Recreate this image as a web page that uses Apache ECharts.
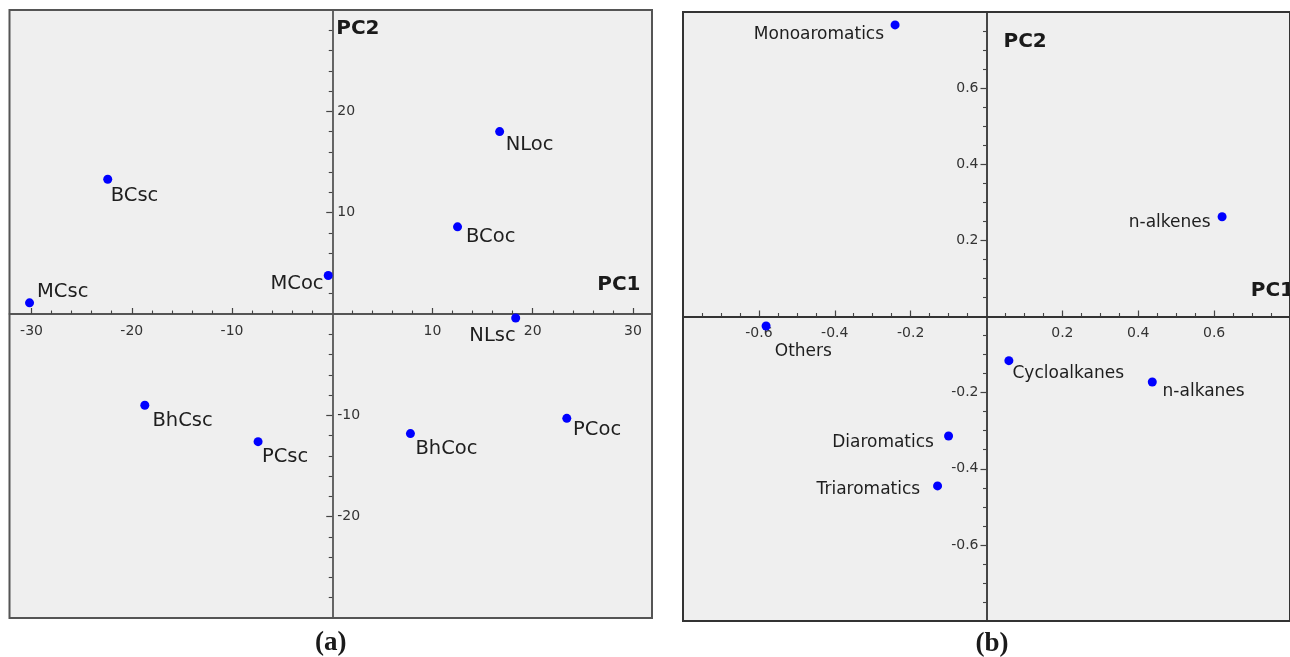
<!DOCTYPE html>
<html><head><meta charset="utf-8">
<script src="https://cdn.jsdelivr.net/npm/echarts@6/dist/echarts.min.js"></script>
<style>html,body{margin:0;padding:0;background:#fff}#c{width:1290px;height:657px}</style>
</head><body><div id="c"></div>
<script>
// ---------- data (panel a: samples) ----------
const namesA = ['MCsc','BCsc','MCoc','NLoc','BCoc','NLsc','BhCsc','PCsc','BhCoc','PCoc'];
const pc1A   = [-30.2, -22.4, -0.4, 16.7, 12.5, 18.3, -18.7, -7.4, 7.8, 23.4];
const pc2A   = [1.1, 13.3, 3.8, 18.0, 8.6, -0.4, -9.0, -12.6, -11.8, -10.3];
// ---------- data (panel b: loadings) ----------
const namesB = ['Monoaromatics','n-alkenes','Others','Cycloalkanes','n-alkanes','Diaromatics','Triaromatics'];
const pc1B   = [-0.241, 0.621, -0.581, 0.059, 0.437, -0.100, -0.129];
const pc2B   = [0.766, 0.262, -0.025, -0.116, -0.172, -0.314, -0.445];
// ---------- tick labels ----------
const xTicksA = [-30, -20, -10, 10, 20, 30];
const yTicksA = [-20, -10, 10, 20];
const xMinorA = [-28,-26,-24,-22,-18,-16,-14,-12,-8,-6,-4,-2,2,4,6,8,12,14,16,18,22,24,26,28];
const yMinorA = [-28,-26,-24,-22,-18,-16,-14,-12,-8,-6,-4,-2,2,4,6,8,12,14,16,18,22,24,26,28];
const xTicksB = [-0.6, -0.4, -0.2, 0.2, 0.4, 0.6];
const yTicksB = [-0.6, -0.4, -0.2, 0.2, 0.4, 0.6];
const xMinorB = [-0.75,-0.7,-0.65,-0.55,-0.5,-0.45,-0.35,-0.3,-0.25,-0.15,-0.1,-0.05,0.05,0.1,0.15,0.25,0.3,0.35,0.45,0.5,0.55,0.65,0.7,0.75];
const yMinorB = [-0.75,-0.7,-0.65,-0.55,-0.5,-0.45,-0.35,-0.3,-0.25,-0.15,-0.1,-0.05,0.05,0.1,0.15,0.25,0.3,0.35,0.45,0.5,0.55,0.65,0.7,0.75];
const captions = ['(a)', '(b)'];

// ---------- layout / style (kept apart from data) ----------
const gridA = {left: 9.5, top: 10, width: 642.5, height: 608};
const gridB = {left: 683, top: 12, width: 618, height: 609};
const rangeA = {xmin: -32.2, xmax: 31.9, ymin: -30, ymax: 30};
const rangeB = {xmin: -0.8, xmax: 0.8, ymin: -0.8, ymax: 0.8};
// [align, dx, dy] for each label
const labelLayoutA = [['left',7.5,-10.7],['left',3,16.7],['right',-4.7,8.3],['left',6,13],['left',8.5,10],
                      ['right',0,18],['left',7.6,15.7],['left',3.8,15],['left',5,15.3],['left',6.3,11.7]];
const labelLayoutB = [['right',-11,9.3],['right',-11.5,6],['left',8.7,25.6],['left',3.6,12.7],['left',10.3,9.7],
                      ['right',-14.6,7],['right',-17.4,3.7]];
const FONT = '"DejaVu Sans", sans-serif';

function axisPair(dim, gridIndex, min, max, major, minor, lineColor, cfg) {
  const pos = dim === 'x' ? 'bottom' : 'left';
  const tickInside = dim === 'x';
  const main = {
    type: 'value', gridIndex, min, max, position: pos, offset: 0,
    axisLine: {show: true, onZero: false, lineStyle: {color: lineColor, width: 1.8}},
    axisTick: {show: true, inside: tickInside, length: 6, customValues: major, lineStyle: {color: '#444', width: 1.2}},
    axisLabel: {show: true, customValues: major, inside: cfg.labelInside, margin: cfg.margin,
                color: '#333', fontSize: 14, fontFamily: FONT},
    splitLine: {show: false}
  };
  const sub = {
    type: 'value', gridIndex, min, max, position: pos, offset: 0,
    axisLine: {show: false, onZero: false},
    axisTick: {show: true, inside: tickInside, length: 3.5, customValues: minor, lineStyle: {color: '#444', width: 1.1}},
    axisLabel: {show: false},
    splitLine: {show: false}
  };
  return [main, sub];
}

function makeData(names, xs, ys, layout) {
  return names.map((n, i) => ({
    name: n, value: [xs[i], ys[i]],
    label: {align: layout[i][0], offset: [layout[i][1], layout[i][2]]}
  }));
}

const chart = echarts.init(document.getElementById('c'), null, {renderer: 'canvas'});
const option = {
  backgroundColor: '#ffffff',
  animation: false,
  grid: [
    Object.assign({show: true, backgroundColor: '#efefef', borderColor: '#555', borderWidth: 2}, gridA),
    Object.assign({show: true, backgroundColor: '#efefef', borderColor: '#333', borderWidth: 2}, gridB)
  ],
  xAxis: [
    ...axisPair('x', 0, rangeA.xmin, rangeA.xmax, xTicksA, xMinorA, '#555', {labelInside: false, margin: 10}),
    ...axisPair('x', 1, rangeB.xmin, rangeB.xmax, xTicksB, xMinorB, '#333', {labelInside: false, margin: 10})
  ],
  yAxis: [
    ...axisPair('y', 0, rangeA.ymin, rangeA.ymax, yTicksA, yMinorA, '#555', {labelInside: true, margin: 5}),
    ...axisPair('y', 1, rangeB.ymin, rangeB.ymax, yTicksB, yMinorB, '#333', {labelInside: false, margin: 8})
  ],
  series: [
    {
      type: 'scatter', xAxisIndex: 0, yAxisIndex: 0, symbol: 'circle', symbolSize: 9,
      itemStyle: {color: '#0000ff', opacity: 1},
      label: {show: true, position: 'inside', verticalAlign: 'middle', formatter: '{b}',
              color: '#1e1e1e', fontSize: 19.5, fontFamily: FONT},
      data: makeData(namesA, pc1A, pc2A, labelLayoutA)
    },
    {
      type: 'scatter', xAxisIndex: 2, yAxisIndex: 2, symbol: 'circle', symbolSize: 9,
      itemStyle: {color: '#0000ff', opacity: 1},
      label: {show: true, position: 'inside', verticalAlign: 'middle', formatter: '{b}',
              color: '#1e1e1e', fontSize: 17, fontFamily: FONT},
      data: makeData(namesB, pc1B, pc2B, labelLayoutB)
    }
  ]
};
chart.setOption(option);

// place the axes through the origin of each panel (derived from the library's own scales)
const zA = chart.convertToPixel({xAxisIndex: 0, yAxisIndex: 0}, [0, 0]);
const zB = chart.convertToPixel({xAxisIndex: 2, yAxisIndex: 2}, [0, 0]);
const offXA = -(gridA.top + gridA.height - zA[1]);
const offYA = -(zA[0] - gridA.left);
const offXB = -(gridB.top + gridB.height - zB[1]);
const offYB = -(zB[0] - gridB.left);

const pcFont = 'bold 20px ' + FONT;
function txt(text, x, y, align, font) {
  return {type: 'text', x, y, z: 10, style: {text, font, fill: '#1a1a1a', align, verticalAlign: 'middle'}};
}
chart.setOption({
  xAxis: [{offset: offXA}, {offset: offXA}, {offset: offXB}, {offset: offXB}],
  yAxis: [{offset: offYA}, {offset: offYA}, {offset: offYB}, {offset: offYB}],
  graphic: [
    txt('PC2', zA[0] + 4, gridA.top + 19, 'left', pcFont),
    txt('PC1', gridA.left + gridA.width - 11.5, zA[1] - 29, 'right', pcFont),
    txt('PC2', zB[0] + 17, gridB.top + 29.5, 'left', pcFont),
    txt('PC1', gridB.left + gridB.width - 7, zB[1] - 25.5, 'right', pcFont),
    txt(captions[0], gridA.left + gridA.width / 2, 643, 'center', 'bold 27px "Liberation Serif", serif'),
    txt(captions[1], gridB.left + gridB.width / 2, 644, 'center', 'bold 27px "Liberation Serif", serif')
  ]
});
</script>
</body></html>
